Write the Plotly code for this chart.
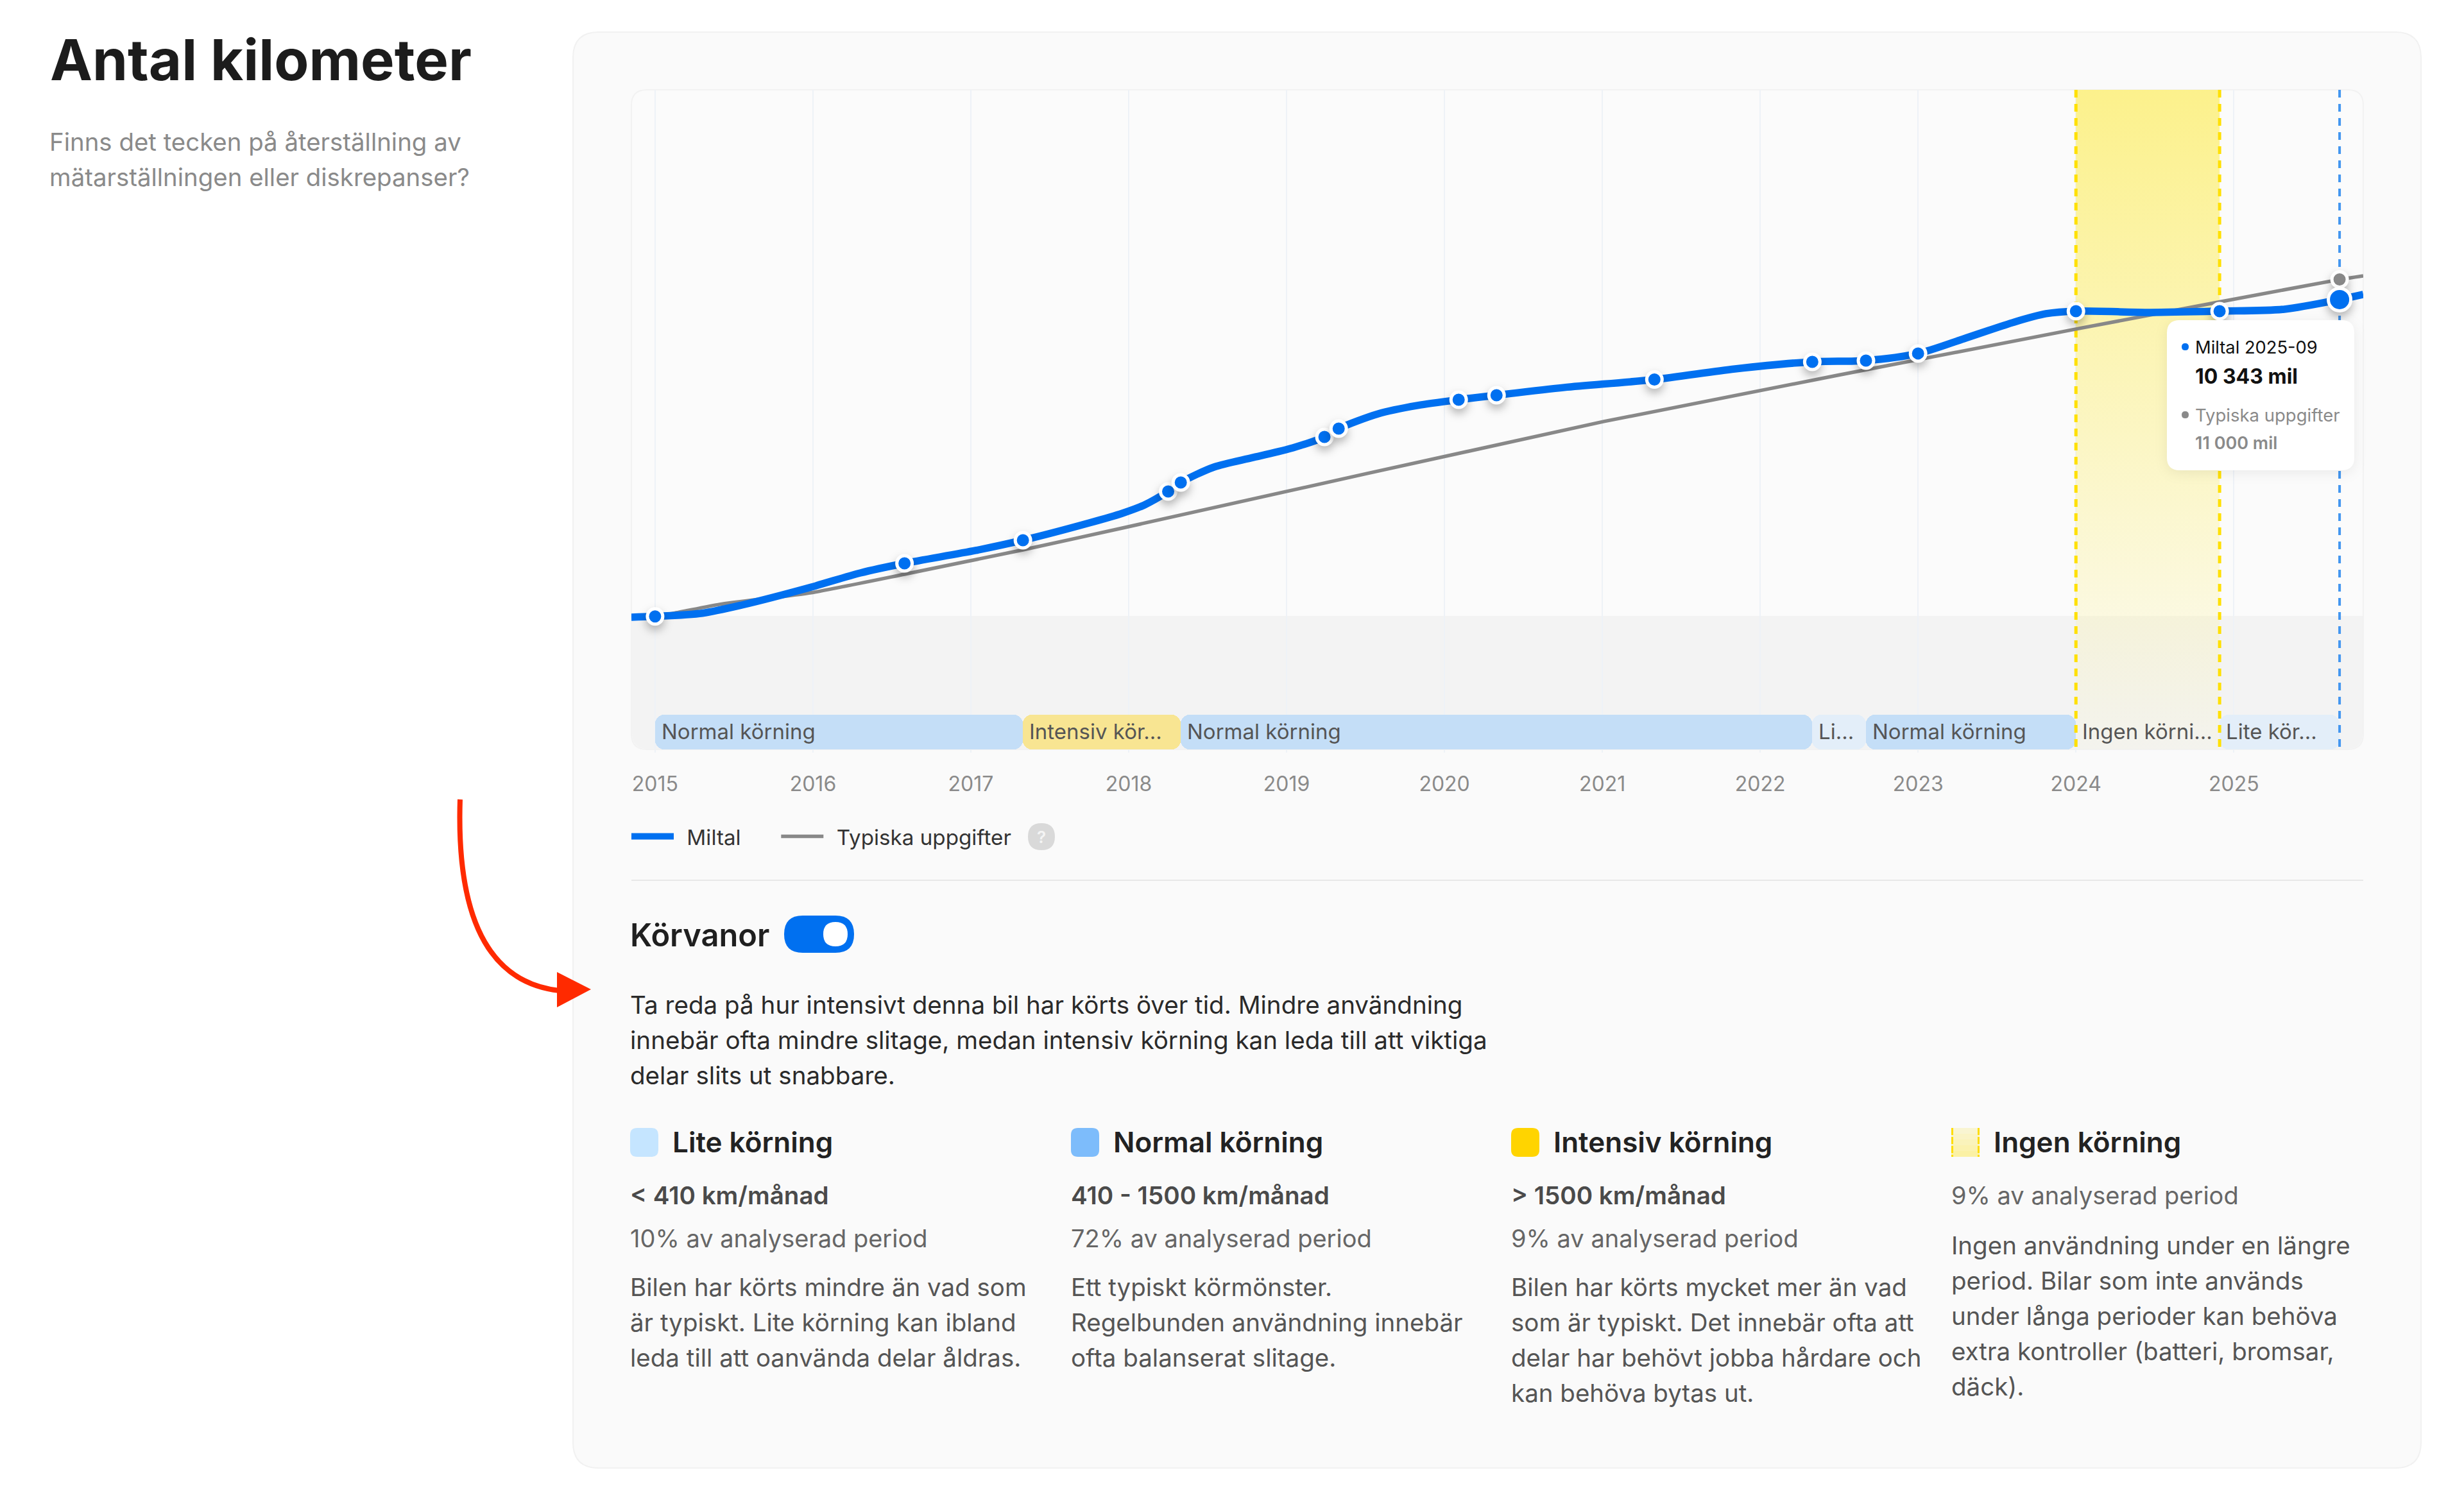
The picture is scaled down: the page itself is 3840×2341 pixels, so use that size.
import plotly.graph_objects as go

# ---------- data ----------
curve_x = [2014.85, 2015.00, 2015.30, 2015.55, 2015.99, 2016.30, 2016.58, 2017.03, 2017.33, 2017.75, 2017.96, 2018.10,
           2018.25, 2018.33, 2018.54, 2018.79, 2019.04, 2019.24, 2019.33, 2019.58, 2019.83, 2020.09, 2020.33,
           2020.76, 2021.33, 2021.84, 2022.33, 2022.67, 2023.00, 2023.29, 2023.61, 2023.81, 2024.00,
           2024.47, 2024.91, 2025.32, 2025.67, 2025.82]
curve_y = [-40, -15, 90, 357, 944, 1406, 1720, 2140, 2476, 3042, 3357, 3630,
           4070, 4364, 4867, 5182, 5497, 5853, 6126, 6609, 6881, 7070, 7217,
           7470, 7730, 8077, 8308, 8350, 8581, 9063, 9609, 9881, 9965,
           9924, 9965, 10028, 10343, 10511]
typical_x = [2015.00, 2015.12, 2015.41, 2015.99, 2016.58, 2017.33, 2017.96, 2021.01, 2024.00, 2025.67, 2025.82]
typical_y = [0, 90, 380, 760, 1364, 2161, 2874, 6357, 9378, 11000, 11119]
point_x = [2015.00, 2016.58, 2017.33, 2018.25, 2018.33, 2019.24, 2019.33, 2020.09, 2020.33, 2021.33, 2022.33,
           2022.67, 2023.00, 2024.00, 2024.91]
point_y = [-15, 1720, 2476, 4070, 4364, 5853, 6126, 7070, 7217, 7730, 8308, 8350, 8581, 9965, 9965]
latest_x = [2025.67]
latest_y = [10343]
latest_typical_y = [11000]
seg_start = [2015.00, 2017.33, 2018.33, 2022.33, 2022.67, 2024.00, 2024.91]
seg_end = [2017.33, 2018.33, 2022.33, 2022.67, 2024.00, 2024.91, 2025.67]
seg_label = ["Normal körning", "Intensiv kör...", "Normal körning", "Li...", "Normal körning", "Ingen körni...", "Lite kör..."]
seg_color = ["#c4def7", "#f8e592", "#c4def7", "#e3eef9", "#c4def7", "rgba(0,0,0,0)", "#e3eef9"]
years = list(range(2015, 2026))
year_labels = [str(y) for y in years]
no_drive = [2024.00, 2024.91]
x_range = [2014.85, 2025.82]
y_range = [-4363, 17200]
seg_top = -3231

W, H = 3840, 2341
def PX(x): return x / W
def PY(y): return 1 - y / H

BLUE = "#0070f0"
FONT = "Inter"

def rrect(x0, y0, x1, y1, rt, rb=None):
    rb = rt if rb is None else rb
    a, b, c, d = PX(x0), PX(x1), PY(y0), PY(y1)
    rx, ry = rt / W, rt / H
    sx, sy = rb / W, rb / H
    return (f"M{a+rx},{c} L{b-rx},{c} Q{b},{c} {b},{c-ry} L{b},{d+sy} Q{b},{d} {b-sx},{d} "
            f"L{a+sx},{d} Q{a},{d} {a},{d+sy} L{a},{c-ry} Q{a},{c} {a+rx},{c} Z")

shapes = []
def rr(x0, y0, x1, y1, r, fill, line=None, lw=0, layer="below", rb=None):
    shapes.append(dict(type="path", path=rrect(x0, y0, x1, y1, r, rb), xref="paper", yref="paper",
                       fillcolor=fill, line=dict(color=line or "rgba(0,0,0,0)", width=lw), layer=layer))

annotations = []
def T(text, x, y, size, color, weight=400, anchor="left"):
    annotations.append(dict(text=text, x=PX(x), y=PY(y), xref="paper", yref="paper", xanchor=anchor, yanchor="middle",
                            showarrow=False, borderpad=0, borderwidth=0,
                            font=dict(family=FONT, size=size, color=color, weight=weight)))

# ---------- chrome ----------
rr(893, 50, 3773, 2288, 40, "#fafafa", "#f1f1f1", 2)
rr(984, 140, 3683, 1168, 24, "#fbfbfb", "#f2f2f2", 2)
rr(985, 960, 3682, 1167, 0, "#f3f3f3", rb=24)
shapes.append(dict(type="line", xref="paper", yref="paper", x0=PX(984), x1=PX(3683), y0=PY(1372), y1=PY(1372),
                   line=dict(color="#e8e8e8", width=2), layer="below"))

# red arrow
shapes.append(dict(type="path", xref="paper", yref="paper", layer="below", fillcolor="rgba(0,0,0,0)",
                   path=f"M{PX(717)},{PY(1246)} C{PX(712)},{PY(1400)} {PX(745)},{PY(1530)} {PX(872)},{PY(1544)}",
                   line=dict(color="#ff2a00", width=8)))
shapes.append(dict(type="path", xref="paper", yref="paper", layer="below", fillcolor="#ff2a00",
                   path=f"M{PX(868)},{PY(1515)} L{PX(921)},{PY(1542)} L{PX(868)},{PY(1570)} Z",
                   line=dict(color="rgba(0,0,0,0)", width=0)))

# toggle
rr(1222, 1427, 1331, 1485, 29, BLUE)
rr(1283, 1437, 1321, 1475, 19, "#ffffff")

# help circle
rr(1602, 1283, 1644, 1325, 21, "#d9d9d9")
T("?", 1623, 1304, 26, "#f4f4f4", 600, "center")

# left column
T("Antal kilometer", 78, 92, 88.4, "#1c1c1c", 700)
T("Finns det tecken på återställning av", 77, 221, 38.4, "#8a8a8a")
T("mätarställningen eller diskrepanser?", 77, 276, 38.4, "#8a8a8a")

# habits
T("Körvanor", 982, 1457, 48.8, "#1f1f1f", 600)
intro = ["Ta reda på hur intensivt denna bil har körts över tid. Mindre användning",
         "innebär ofta mindre slitage, medan intensiv körning kan leda till att viktiga",
         "delar slits ut snabbare."]
for line, y in zip(intro, [1566, 1621, 1676]):
    T(line, 982, y, 38.6, "#2a2a2a")

col_x = [982, 1669, 2355, 3041]
col_title = ["Lite körning", "Normal körning", "Intensiv körning", "Ingen körning"]
col_color = ["#c5e5ff", "#7dbcfb", "#ffd400", None]
col_range = ["< 410 km/månad", "410 - 1500 km/månad", "> 1500 km/månad", None]
col_share = ["10% av analyserad period", "72% av analyserad period", "9% av analyserad period", "9% av analyserad period"]
col_text = [["Bilen har körts mindre än vad som", "är typiskt. Lite körning kan ibland", "leda till att oanvända delar åldras."],
            ["Ett typiskt körmönster.", "Regelbunden användning innebär", "ofta balanserat slitage."],
            ["Bilen har körts mycket mer än vad", "som är typiskt. Det innebär ofta att", "delar har behövt jobba hårdare och", "kan behöva bytas ut."],
            ["Ingen användning under en längre", "period. Bilar som inte används", "under långa perioder kan behöva", "extra kontroller (batteri, bromsar,", "däck)."]]
for i, x in enumerate(col_x):
    if col_color[i]:
        rr(x, 1758, x + 44, 1803, 11, col_color[i])
    else:
        for k, c in enumerate(["#f9f5d2", "#faf4c6", "#faf3bb", "#fbf2af", "#fbf1a4"]):
            shapes.append(dict(type="rect", xref="paper", yref="paper", layer="below", x0=PX(x), x1=PX(x + 44),
                               y0=PY(1758 + 9 * k), y1=PY(1758 + 9 * (k + 1)), fillcolor=c, line=dict(width=0)))
        for sx in (x + 1.5, x + 42.5):
            shapes.append(dict(type="line", xref="paper", yref="paper", layer="below", x0=PX(sx), x1=PX(sx),
                               y0=PY(1758), y1=PY(1803), line=dict(color="#ffdd00", width=3, dash="11px,3px")))
    T(col_title[i], x + 66, 1780, 44, "#222222", 600)
    if col_range[i]:
        T(col_range[i], x, 1863, 38.6, "#4a4a4a", 600)
        T(col_share[i], x, 1930, 38, "#666666")
        ys = [2006, 2061, 2116, 2171]
    else:
        T(col_share[i], x, 1863, 38, "#666666")
        ys = [1941, 1996, 2051, 2106, 2161]
    for line, y in zip(col_text[i], ys):
        T(line, x, y, 38.5, "#555555")

# tooltip
rr(3377, 499, 3669, 733, 20, "#ffffff", layer="above")
rr(3400, 535, 3411, 546, 5.5, BLUE, layer="above")
rr(3400, 641, 3411, 652, 5.5, "#8a8a8a", layer="above")
T("Miltal 2025-09", 3421, 541, 27.3, "#111111", 400)
T(f"{latest_y[0]:,} mil".replace(",", " "), 3421, 587, 32, "#111111", 700)
T("Typiska uppgifter", 3421, 647, 27.5, "#8a8a8a")
T(f"{latest_typical_y[0]:,} mil".replace(",", " "), 3421, 690, 27, "#8a8a8a", 600)

# ---------- chart ----------
fig = go.Figure()
seg_mid = [(a + b) / 2 for a, b in zip(seg_start, seg_end)]
seg_width = [b - a for a, b in zip(seg_start, seg_end)]
fig.add_trace(go.Bar(x=seg_mid, width=seg_width, y=[seg_top - y_range[0]] * len(seg_mid), base=y_range[0],
                     marker=dict(color=seg_color, line=dict(width=0), cornerradius=14), showlegend=False, hoverinfo="skip"))
fig.add_trace(go.Scatter(x=[no_drive[0], no_drive[1], no_drive[1], no_drive[0], no_drive[0]],
                         y=[y_range[1], y_range[1], y_range[0], y_range[0], y_range[1]],
                         mode="lines", fill="toself", line=dict(width=0), showlegend=False, hoverinfo="skip",
                         fillgradient=dict(type="vertical", colorscale=[[0, "rgba(252,241,140,0.05)"], [1, "rgba(252,241,140,1)"]])))
for d, c, dash, w in [(no_drive[0], "#ffe000", "12px,10px", 5), (no_drive[1], "#ffe000", "12px,10px", 5),
                      (latest_x[0], "#4396f0", "12px,10px", 4)]:
    fig.add_trace(go.Scatter(x=[d, d], y=y_range[::-1], mode="lines", line=dict(color=c, width=w, dash=dash),
                             showlegend=False, hoverinfo="skip"))
fig.add_trace(go.Scatter(x=typical_x, y=typical_y, mode="lines",
                         name="\u00a0\u2009Typiska uppgifter",
                         line=dict(color="#888888", width=5.5, shape="spline", smoothing=0.5), hoverinfo="skip"))
fig.add_trace(go.Scatter(x=curve_x, y=curve_y, mode="lines",
                         name="\u00a0\u2009Miltal" + "\u00a0" * 5 + "\u2009",
                         line=dict(color=BLUE, width=11.5, shape="spline", smoothing=0.8), hoverinfo="skip"))
fig.add_trace(go.Scatter(x=point_x, y=point_y, mode="markers", showlegend=False, hoverinfo="skip",
                         marker=dict(color=BLUE, size=24, line=dict(color="#ffffff", width=5))))
fig.add_trace(go.Scatter(x=latest_x, y=latest_typical_y, mode="markers", showlegend=False, hoverinfo="skip",
                         marker=dict(color="#888888", size=24, line=dict(color="#ffffff", width=5))))
fig.add_trace(go.Scatter(x=latest_x, y=latest_y, mode="markers", showlegend=False, hoverinfo="skip",
                         marker=dict(color=BLUE, size=35, line=dict(color="#ffffff", width=5))))

for s, lab in zip(seg_start, seg_label):
    annotations.append(dict(text=lab, x=s, y=(seg_top + y_range[0]) / 2, xref="x", yref="y", xanchor="left", yanchor="middle",
                            xshift=10, yshift=1, showarrow=False, borderpad=0, borderwidth=0,
                            font=dict(family=FONT, size=33, color="#555555")))

fig.update_layout(
    width=W, height=H, autosize=False, margin=dict(l=0, r=0, t=0, b=0),
    paper_bgcolor="#ffffff", plot_bgcolor="rgba(0,0,0,0)", bargap=0, showlegend=True,
    font=dict(family=FONT),
    xaxis=dict(domain=[PX(984), PX(3683)], range=x_range, tickmode="array", tickvals=years, ticktext=year_labels,
               showgrid=True, gridcolor="#eef2f7", gridwidth=2, zeroline=False, showline=False,
               ticks="outside", ticklen=4, tickwidth=2, tickcolor="#eef2f7", ticklabelstandoff=22,
               tickfont=dict(family=FONT, size=32, color="#8a8a8a"), fixedrange=True),
    yaxis=dict(domain=[PY(1168), PY(140)], range=y_range, visible=False, showgrid=False, zeroline=False, fixedrange=True),
    legend=dict(orientation="h", x=PX(979), y=PY(1304), xanchor="left", yanchor="middle", traceorder="reversed",
                itemwidth=66, bgcolor="rgba(0,0,0,0)", borderwidth=0,
                font=dict(family=FONT, size=33.2, color="#333333"), itemclick=False, itemdoubleclick=False),
    shapes=shapes, annotations=annotations,
)

post = """
document.body.style.margin='0';document.body.style.overflow='hidden';
var gd=document.getElementById('{plot_id}');
gd.querySelectorAll('.scatterlayer .trace .points path').forEach(function(p){p.style.filter='drop-shadow(0 7px 7px rgba(0,0,0,.28))';});
var t=gd.querySelector('.layer-above path');if(t){t.style.filter='drop-shadow(0 4px 10px rgba(0,0,0,.07))';}
"""
fig.write_html("out.html", post_script=post, config=dict(displayModeBar=False))
